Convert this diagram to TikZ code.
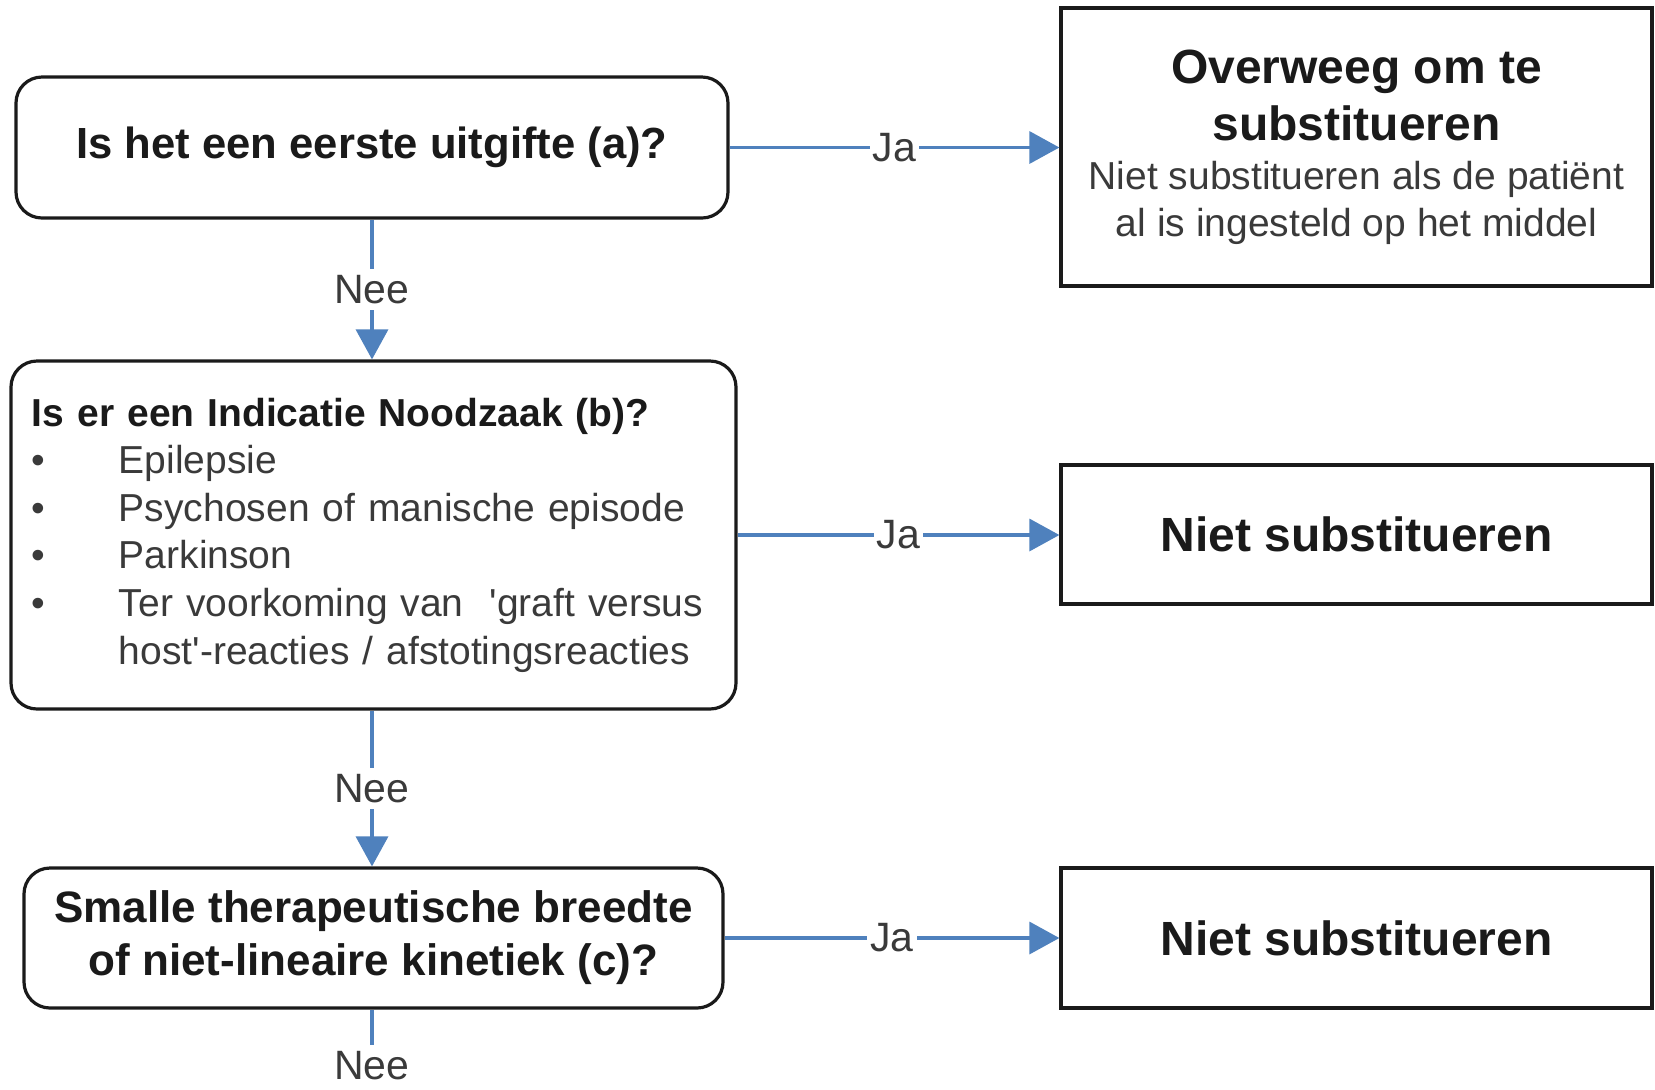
\documentclass[tikz,border=0pt]{standalone}
\usepackage{fontspec}
\setmainfont{Liberation Sans}
\usetikzlibrary
  {
    arrows.meta,   % triangle arrow tips
    positioning,   % place nodes relative to other nodes
  }
\definecolor{flowblue}{RGB}{79,129,189}
\definecolor{inkdark}{RGB}{26,26,26}
\definecolor{inkgrey}{RGB}{58,58,58}

\begin{document}
\begin{tikzpicture}
  [
    x=0.5pt, y=-0.5pt,
    question/.style={draw=inkdark, line width=1.6pt, rounded corners=13pt,
                     align=center, text=inkdark, inner sep=0pt},
    outcome/.style={draw=inkdark, line width=1.6pt, align=center, text=inkdark,
                    inner sep=0pt, minimum width=295.5pt},
    flow/.style={draw=flowblue, line width=1.7pt, -{Triangle[length=15pt,width=16pt]}},
    answer/.style={fill=white, text=inkgrey, inner xsep=1.5pt, inner ysep=3pt,
                   font=\fontsize{20.5pt}{24pt}\selectfont},
  ]
  \useasboundingbox (0,0) rectangle (1655,1089);

  % questions on the left
  \node [question, minimum width=356pt, minimum height=70.5pt,
         font=\bfseries\fontsize{21.8pt}{26pt}\selectfont]
        (first) at (372,147.5) {Is het een eerste uitgifte (a)?};
  \node [question, minimum width=362.5pt, minimum height=174pt, text width=341.5pt,
         align=left, inner xsep=10.5pt, text=inkgrey,
         font=\fontsize{19.5pt}{23.8pt}\selectfont]
        (need) at (373.5,535)
        {{\color{inkdark}\bfseries Is er een Indicatie Noodzaak (b)?}\\
         \makebox[43.5pt][l]{\textbullet}Epilepsie\\
         \makebox[43.5pt][l]{\textbullet}Psychosen of manische episode\\
         \makebox[43.5pt][l]{\textbullet}Parkinson\\
         \makebox[43.5pt][l]{\textbullet}Ter voorkoming van\ \ \textquotesingle graft versus\\
         \hspace*{43.5pt}host\textquotesingle-reacties / afstotingsreacties};
  \node [question, minimum width=349.5pt, minimum height=70pt,
         font=\bfseries\fontsize{22pt}{26.5pt}\selectfont]
        (narrow) at (373.5,938) {Smalle therapeutische breedte\\of niet-lineaire kinetiek (c)?};

  % outcomes on the right
  \node [outcome, minimum height=139pt, font=\fontsize{19.5pt}{23.3pt}\selectfont]
        (consider) at (1356.5,147)
        {{\bfseries\fontsize{24pt}{29pt}\selectfont Overweeg om te}\\[5.5pt]
         {\bfseries\fontsize{24pt}{29pt}\selectfont substitueren}\\[1pt]
         {\color{inkgrey}Niet substitueren als de patiënt}\\
         {\color{inkgrey}al is ingesteld op het middel}};
  \node [outcome, minimum height=69.5pt, font=\bfseries\fontsize{24pt}{29pt}\selectfont]
        (nosubA) at (1356.5,534.5) {Niet substitueren};
  \node [outcome, minimum height=70pt, font=\bfseries\fontsize{24pt}{29pt}\selectfont]
        (nosubB) at (1356.5,938) {Niet substitueren};

  \node [answer, fill=none] (lastno) at (372,1066) {Nee};

  % connectors
  \draw [flow] (first.east) -- node [answer] {Ja} (consider.west |- first.east);
  \draw [flow] (need.east) -- node [answer] {Ja} (nosubA.west |- need.east);
  \draw [flow] (narrow.east) -- node [answer] {Ja} (nosubB.west |- narrow.east);
  \draw [flow] (first.south) -- node [answer] {Nee} (first.south |- need.north);
  \draw [flow] (need.south -| first.south) -- node [answer] {Nee} (first.south |- narrow.north);
  \draw [draw=flowblue, line width=1.7pt] (narrow.south -| lastno.north) -- (lastno.north);
\end{tikzpicture}
\end{document}
